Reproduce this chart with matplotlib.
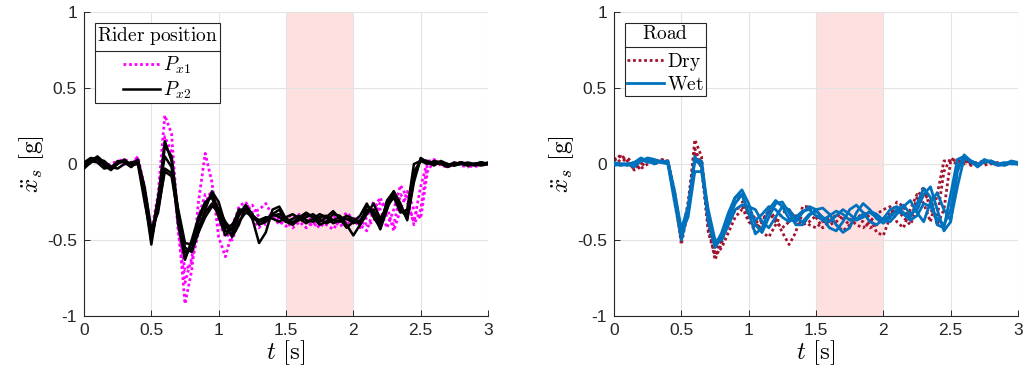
import numpy as np
import matplotlib
matplotlib.use("Agg")
import matplotlib.pyplot as plt
from matplotlib.lines import Line2D

plt.rcParams['font.family'] = ['Liberation Sans', 'DejaVu Sans']
plt.rcParams['mathtext.fontset'] = 'cm'

# time grid [s]
t = np.round(np.arange(0, 3.0001, 0.05), 2)

# Left panel: rider position
px1_traces = [
    [-0.02, 0.02, 0.03, -0.01, -0.03, 0.02, 0.03, 0.01, 0.04,
     -0.15, -0.45, -0.20, 0.32, 0.20, -0.40, -0.92, -0.70, -0.25, 0.07,
     -0.12, -0.48, -0.61, -0.45, -0.28, -0.25, -0.32, -0.30, -0.26, -0.34,
     -0.40, -0.36, -0.33, -0.38, -0.42, -0.38, -0.35, -0.40, -0.43, -0.37,
     -0.32, -0.36, -0.42, -0.35, -0.25, -0.30, -0.42, -0.30, -0.14, -0.22,
     -0.40, -0.30, 0.00, 0.03, 0.00, -0.02, 0.01, -0.01, -0.02, 0.00,
     -0.01, 0.00],
    [0.00, 0.03, 0.01, -0.02, 0.00, 0.02, 0.00, -0.01, 0.05,
     -0.18, -0.48, -0.25, 0.18, 0.08, -0.45, -0.78, -0.62, -0.35, -0.20,
     -0.20, -0.38, -0.48, -0.40, -0.30, -0.28, -0.36, -0.42, -0.36, -0.32,
     -0.37, -0.41, -0.37, -0.33, -0.37, -0.41, -0.38, -0.34, -0.37, -0.41,
     -0.38, -0.35, -0.40, -0.44, -0.30, -0.22, -0.35, -0.40, -0.20, -0.25,
     -0.38, -0.15, 0.02, 0.02, -0.01, -0.02, 0.00, 0.01, -0.01, -0.02,
     0.00, 0.00],
    [-0.01, 0.01, 0.02, 0.00, -0.02, 0.00, 0.02, 0.00, 0.03,
     -0.20, -0.50, -0.28, 0.12, 0.05, -0.40, -0.70, -0.65, -0.45, -0.25,
     -0.18, -0.30, -0.45, -0.50, -0.38, -0.28, -0.27, -0.35, -0.40, -0.35,
     -0.33, -0.38, -0.42, -0.38, -0.34, -0.38, -0.42, -0.37, -0.34, -0.38,
     -0.40, -0.37, -0.35, -0.40, -0.38, -0.25, -0.28, -0.44, -0.30, -0.18,
     -0.30, -0.36, -0.05, 0.02, 0.01, -0.01, 0.00, 0.01, 0.00, -0.01,
     0.00, 0.00],
]

px2_traces = [
    [-0.02, 0.03, 0.04, 0.00, -0.03, 0.02, 0.01, -0.02, 0.02,
     -0.22, -0.53, -0.25, 0.15, 0.02, -0.35, -0.62, -0.52, -0.38, -0.26,
     -0.20, -0.30, -0.44, -0.46, -0.34, -0.27, -0.33, -0.40, -0.38, -0.33,
     -0.35, -0.38, -0.36, -0.34, -0.37, -0.38, -0.35, -0.34, -0.37, -0.38,
     -0.36, -0.37, -0.38, -0.30, -0.30, -0.40, -0.25, -0.20, -0.30, -0.35,
     -0.10, 0.03, 0.02, 0.00, 0.01, -0.01, 0.01, 0.00, -0.01, 0.00,
     0.01, 0.00],
    [0.00, 0.02, 0.01, -0.03, -0.02, 0.01, 0.02, 0.00, 0.01,
     -0.18, -0.45, -0.30, -0.05, -0.08, -0.35, -0.58, -0.56, -0.42, -0.32,
     -0.26, -0.33, -0.42, -0.40, -0.32, -0.30, -0.34, -0.37, -0.36, -0.33,
     -0.30, -0.38, -0.40, -0.36, -0.33, -0.35, -0.40, -0.38, -0.33, -0.34,
     -0.40, -0.47, -0.40, -0.27, -0.32, -0.43, -0.30, -0.18, -0.28, -0.36,
     -0.05, 0.02, 0.01, 0.01, 0.00, -0.02, 0.00, 0.01, 0.00, -0.01,
     0.00, 0.01],
    [0.01, 0.04, 0.03, -0.01, -0.04, 0.00, 0.03, -0.01, 0.00,
     -0.25, -0.48, -0.22, 0.05, -0.02, -0.40, -0.63, -0.50, -0.35, -0.25,
     -0.22, -0.35, -0.47, -0.42, -0.30, -0.30, -0.36, -0.37, -0.35, -0.36,
     -0.38, -0.35, -0.33, -0.36, -0.39, -0.36, -0.33, -0.35, -0.39, -0.37,
     -0.34, -0.36, -0.40, -0.33, -0.26, -0.36, -0.28, -0.22, -0.32, -0.30,
     0.00, 0.02, 0.00, 0.02, 0.01, -0.01, 0.00, 0.01, -0.01, 0.00,
     0.01, 0.00],
    [-0.03, 0.01, 0.03, 0.02, -0.02, -0.03, 0.00, 0.01, 0.02,
     -0.20, -0.50, -0.28, 0.12, 0.05, -0.32, -0.55, -0.58, -0.45, -0.30,
     -0.18, -0.25, -0.40, -0.48, -0.40, -0.28, -0.36, -0.52, -0.45, -0.30,
     -0.28, -0.36, -0.39, -0.35, -0.32, -0.35, -0.38, -0.35, -0.31, -0.36,
     -0.42, -0.38, -0.34, -0.26, -0.35, -0.42, -0.24, -0.18, -0.26, -0.37,
     -0.12, 0.04, 0.01, -0.01, 0.02, 0.00, -0.01, 0.01, 0.00, 0.00,
     0.01, 0.00],
    [-0.01, 0.02, 0.05, 0.01, -0.03, 0.01, 0.02, -0.02, 0.03,
     -0.15, -0.43, -0.32, -0.03, -0.06, -0.30, -0.52, -0.53, -0.45, -0.35,
     -0.28, -0.30, -0.38, -0.44, -0.38, -0.32, -0.34, -0.38, -0.37, -0.34,
     -0.33, -0.36, -0.38, -0.37, -0.35, -0.33, -0.36, -0.39, -0.37, -0.35,
     -0.36, -0.39, -0.37, -0.31, -0.31, -0.38, -0.27, -0.21, -0.29, -0.33,
     -0.08, 0.03, 0.01, 0.00, 0.01, 0.00, -0.01, 0.00, 0.01, 0.00,
     -0.01, 0.00],
]

# Right panel: road condition
dry_traces = [
    [0.02, 0.06, 0.02, -0.04, -0.02, 0.03, 0.00, 0.02, 0.02,
     -0.20, -0.53, -0.30, 0.16, 0.05, -0.40, -0.63, -0.52, -0.33, -0.22,
     -0.24, -0.36, -0.45, -0.38, -0.30, -0.36, -0.45, -0.53, -0.45, -0.28,
     -0.28, -0.35, -0.42, -0.38, -0.33, -0.36, -0.40, -0.36, -0.32, -0.35,
     -0.45, -0.47, -0.35, -0.25, -0.28, -0.38, -0.22, -0.15, -0.30, -0.35,
     -0.05, 0.04, 0.01, 0.03, -0.01, 0.01, 0.02, 0.00, 0.01, -0.01,
     0.01, 0.00],
    [-0.01, 0.03, 0.04, 0.00, -0.03, 0.00, 0.02, 0.03, 0.01,
     -0.25, -0.50, -0.25, 0.10, 0.00, -0.45, -0.60, -0.55, -0.45, -0.35,
     -0.30, -0.30, -0.36, -0.45, -0.48, -0.40, -0.32, -0.30, -0.36, -0.40,
     -0.38, -0.34, -0.36, -0.40, -0.38, -0.34, -0.36, -0.40, -0.42, -0.38,
     -0.33, -0.30, -0.28, -0.38, -0.42, -0.30, -0.20, -0.26, -0.38, -0.20,
     0.02, 0.02, 0.00, 0.02, 0.00, 0.01, -0.01, 0.01, 0.00, 0.00,
     0.01, 0.00],
    [0.03, 0.05, 0.00, -0.03, 0.00, 0.02, 0.01, 0.03, 0.02,
     -0.18, -0.48, -0.32, 0.08, -0.03, -0.42, -0.58, -0.50, -0.40, -0.30,
     -0.28, -0.38, -0.42, -0.36, -0.32, -0.38, -0.42, -0.38, -0.34, -0.36,
     -0.40, -0.42, -0.38, -0.36, -0.40, -0.44, -0.40, -0.36, -0.38, -0.42,
     -0.40, -0.36, -0.32, -0.30, -0.35, -0.40, -0.30, -0.20, -0.24, -0.40,
     -0.30, 0.02, 0.03, 0.00, 0.02, 0.00, 0.01, 0.01, -0.01, 0.00,
     0.01, 0.00],
]

wet_traces = [
    [0.00, 0.00, -0.01, 0.01, 0.03, 0.01, 0.02, 0.01, 0.00,
     -0.25, -0.48, -0.30, 0.02, 0.00, -0.35, -0.54, -0.45, -0.32, -0.22,
     -0.17, -0.26, -0.40, -0.45, -0.35, -0.26, -0.25, -0.32, -0.40, -0.40,
     -0.34, -0.30, -0.29, -0.33, -0.40, -0.45, -0.42, -0.32, -0.26, -0.30,
     -0.36, -0.39, -0.35, -0.30, -0.27, -0.33, -0.30, -0.20, -0.15, -0.30,
     -0.44, -0.38, -0.05, 0.06, 0.02, -0.02, 0.02, 0.02, 0.00, -0.01,
     0.01, 0.00],
    [-0.01, 0.00, 0.00, -0.02, 0.02, 0.03, 0.02, 0.02, 0.01,
     -0.20, -0.45, -0.35, -0.05, -0.05, -0.30, -0.50, -0.50, -0.40, -0.30,
     -0.27, -0.28, -0.30, -0.38, -0.42, -0.35, -0.28, -0.30, -0.36, -0.38,
     -0.33, -0.31, -0.35, -0.38, -0.34, -0.30, -0.33, -0.37, -0.35, -0.31,
     -0.33, -0.37, -0.38, -0.33, -0.28, -0.24, -0.32, -0.38, -0.25, -0.19,
     -0.30, -0.37, -0.15, 0.04, 0.02, 0.00, 0.02, 0.01, -0.01, 0.00,
     0.01, 0.00],
    [0.01, 0.00, 0.00, 0.01, 0.04, 0.02, 0.00, 0.02, 0.01,
     -0.22, -0.50, -0.32, 0.05, -0.02, -0.38, -0.55, -0.48, -0.36, -0.26,
     -0.20, -0.32, -0.46, -0.42, -0.30, -0.24, -0.28, -0.36, -0.38, -0.32,
     -0.28, -0.30, -0.36, -0.42, -0.44, -0.38, -0.30, -0.27, -0.32, -0.38,
     -0.40, -0.36, -0.30, -0.28, -0.32, -0.35, -0.26, -0.16, -0.22, -0.40,
     -0.42, -0.20, 0.03, 0.05, 0.01, -0.01, 0.03, 0.01, 0.00, 0.00,
     0.02, 0.01],
    [0.00, -0.01, 0.00, 0.00, 0.02, 0.04, 0.03, 0.01, 0.02,
     -0.18, -0.43, -0.28, 0.03, 0.02, -0.32, -0.52, -0.47, -0.33, -0.22,
     -0.20, -0.33, -0.37, -0.33, -0.28, -0.30, -0.35, -0.38, -0.35, -0.31,
     -0.30, -0.34, -0.37, -0.34, -0.31, -0.33, -0.37, -0.36, -0.33, -0.32,
     -0.35, -0.37, -0.34, -0.31, -0.33, -0.37, -0.34, -0.26, -0.28, -0.36,
     -0.40, -0.30, -0.02, 0.04, 0.02, 0.00, 0.01, 0.02, 0.00, 0.01,
     0.00, 0.00],
]

span = (1.5, 2.0)
xticks = [0, 0.5, 1, 1.5, 2, 2.5, 3]
yticks = [-1, -0.5, 0, 0.5, 1]

W, H = 1024, 378
fig = plt.figure(figsize=(W / 100, H / 100), dpi=100)
ax1 = fig.add_axes([84 / W, 1 - 316 / H, 404 / W, 304 / H])
ax2 = fig.add_axes([614 / W, 1 - 316 / H, 404 / W, 304 / H])

MAGENTA = '#ff00ff'
DRY = '#a2142f'
WET = '#0072bd'


def style(ax):
    ax.set_xlim(0, 3)
    ax.set_ylim(-1, 1)
    ax.set_xticks(xticks)
    ax.set_xticklabels(['0', '0.5', '1', '1.5', '2', '2.5', '3'])
    ax.set_yticks(yticks)
    ax.set_yticklabels(['-1', '-0.5', '0', '0.5', '1'])
    ax.grid(True, color='#e3e3e3', lw=0.8)
    ax.set_axisbelow(True)
    ax.axvspan(span[0], span[1], facecolor=(1.0, 0.0, 0.0), alpha=0.12,
               lw=0, zorder=0.5)
    ax.tick_params(direction='in', length=4, width=0.7, colors='#262626',
                   labelsize=12.5, pad=5)
    for s in ['left', 'bottom']:
        ax.spines[s].set_color('#262626')
        ax.spines[s].set_linewidth(0.8)
    for s in ['top', 'right']:
        ax.spines[s].set_visible(False)
    ax.set_xlabel(r'$t\ \mathrm{[s]}$', fontsize=18, labelpad=0)
    ax.set_ylabel(r'$\ddot{x}_s\ \mathrm{[g]}$', fontsize=18, labelpad=1)


style(ax1)
style(ax2)

kw = dict(solid_joinstyle='round', dash_joinstyle='round')
for i, y in enumerate(px1_traces):
    ax1.plot(t, y, color=MAGENTA, ls=(0, (1, 1)), lw=2.0, zorder=2,
             label=r'$P_{x1}$' if i == 0 else None, **kw)
for i, y in enumerate(px2_traces):
    ax1.plot(t, y, color='black', lw=1.8, zorder=3,
             label=r'$P_{x2}$' if i == 0 else None, **kw)

for i, y in enumerate(dry_traces):
    ax2.plot(t, y, color=DRY, ls=(0, (1, 1)), lw=2.0, zorder=2,
             label=r'$\mathrm{Dry}$' if i == 0 else None, **kw)
for i, y in enumerate(wet_traces):
    ax2.plot(t, y, color=WET, lw=2.0, zorder=3,
             label=r'$\mathrm{Wet}$' if i == 0 else None, **kw)


def make_legend(ax, title):
    fs = 14
    leg = ax.legend(loc='upper left', bbox_to_anchor=(0.0, 1.0),
                    borderaxespad=0.55, title=title, fontsize=fs,
                    title_fontsize=fs, frameon=True, fancybox=False,
                    framealpha=1, edgecolor='#262626', handlelength=1.9,
                    handletextpad=0.15, labelspacing=0.15, borderpad=0.12)
    leg.get_frame().set_linewidth(0.8)
    leg._legend_box.sep = 0.3 * fs * 100 / 72
    return leg


leg1 = make_legend(ax1, r'$\mathrm{Rider\ position}$')
leg2 = make_legend(ax2, r'$\mathrm{Road}$')

fig.canvas.draw()
for leg in (leg1, leg2):
    fb = leg.get_frame().get_window_extent()
    tb = leg.get_title().get_window_extent()
    first = leg.get_texts()[0].get_window_extent()
    ysep = (tb.y0 + first.y1) / 2
    fig.add_artist(Line2D([fb.x0 / W, fb.x1 / W], [ysep / H, ysep / H],
                          transform=fig.transFigure, color='#262626',
                          lw=0.8))

fig.savefig('out.png', dpi=100)
